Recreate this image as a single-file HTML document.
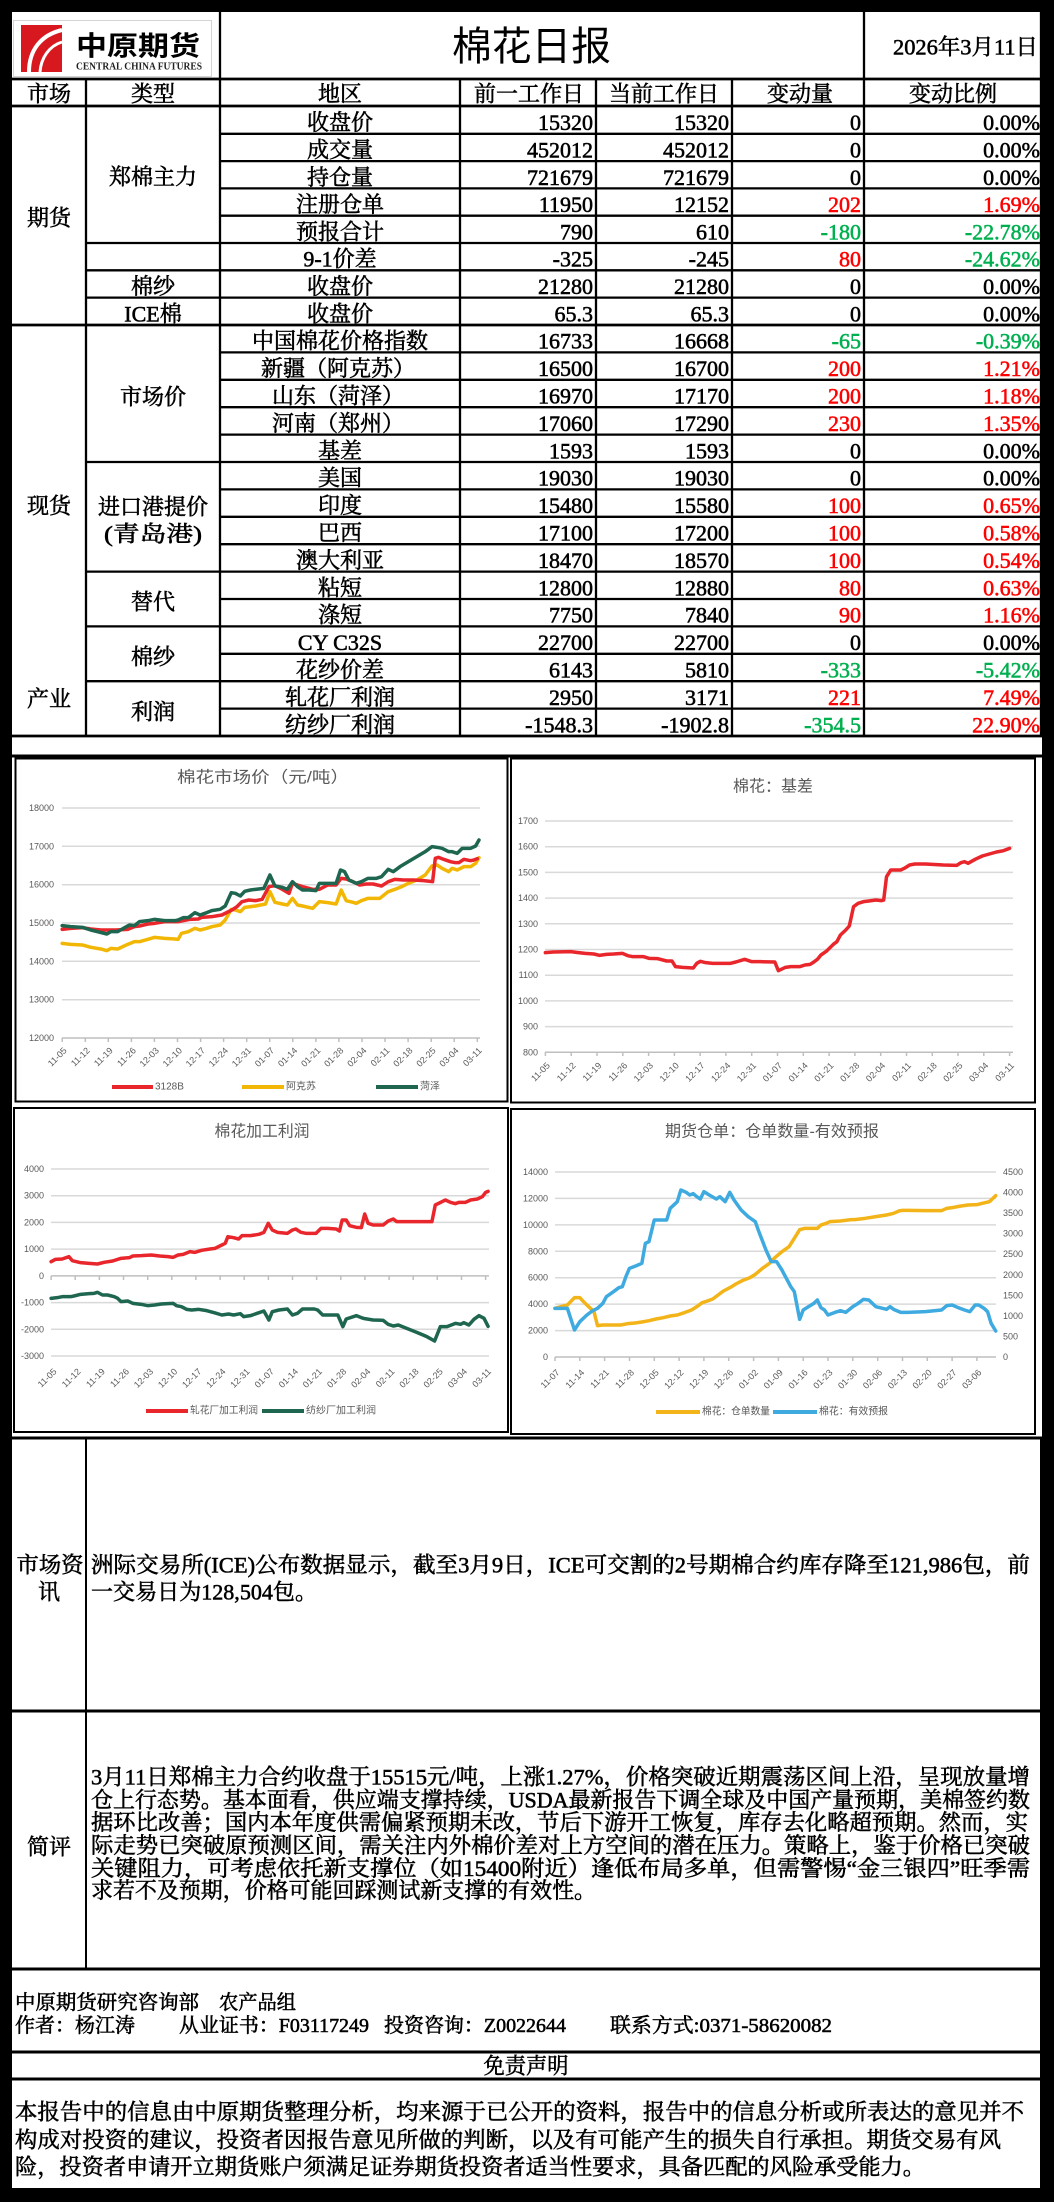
<!DOCTYPE html>
<html><head><meta charset="utf-8">
<style>
html,body{margin:0;padding:0;background:#000;}
svg{display:block;}
.t{font-family:"Liberation Serif","Noto Serif CJK SC",serif;font-size:22px;fill:#000;stroke:#000;stroke-width:0.55;dominant-baseline:central;}
.c{text-anchor:middle;}
.e{text-anchor:end;}
.r{fill:#ff0000;stroke:#ff0000;}
.g{fill:#00b050;stroke:#00b050;}
.ax{font-family:"Liberation Sans","Noto Sans CJK SC",sans-serif;font-size:9px;fill:#595959;dominant-baseline:central;}
.lg{font-family:"Liberation Sans","Noto Sans CJK SC",sans-serif;font-size:10px;fill:#595959;dominant-baseline:central;}
.ti{font-family:"Liberation Sans","Noto Sans CJK SC",sans-serif;font-size:16px;fill:#595959;dominant-baseline:central;text-anchor:middle;}
.gl{stroke:#d9d9d9;stroke-width:1.5;}
.al{stroke:#bfbfbf;stroke-width:1.5;}
.ln{fill:none;stroke-width:3.5;stroke-linejoin:round;stroke-linecap:round;vector-effect:non-scaling-stroke;}
.b{stroke:#000;}
</style></head>
<body>
<svg width="1054" height="2202" viewBox="0 0 1054 2202" xmlns="http://www.w3.org/2000/svg">
<rect x="0" y="0" width="1054" height="2202" fill="#000"/>
<rect x="12" y="12" width="1030" height="2176" fill="#fff"/>

<!-- HEADER -->
<rect x="13.5" y="20.5" width="198" height="56" fill="#fff" stroke="#d4d4d4" stroke-width="1"/>
<rect x="21" y="25" width="41" height="47" fill="#d7191f"/>
<path d="M29 72 C 29 50, 41 35, 62 30" stroke="#fff" stroke-width="4" fill="none"/>
<path d="M40 72 C 41 58, 49 46, 62 42" stroke="#fff" stroke-width="3" fill="none"/>
<text x="76" y="44" style="font-family:'Noto Sans CJK SC',sans-serif;font-size:27px;font-weight:bold;dominant-baseline:central;" textLength="124" lengthAdjust="spacingAndGlyphs">中原期货</text>
<text x="76" y="67" style="font-family:'Liberation Serif',serif;font-size:10px;font-weight:bold;dominant-baseline:central;fill:#222" textLength="126" lengthAdjust="spacingAndGlyphs">CENTRAL CHINA FUTURES</text>
<text x="452" y="47" style="font-family:'Liberation Sans','Noto Sans CJK SC',sans-serif;font-size:40px;dominant-baseline:central;fill:#000" textLength="159" lengthAdjust="spacingAndGlyphs">棉花日报</text>
<text class="t" x="893" y="47" textLength="145" lengthAdjust="spacingAndGlyphs">2026年3月11日</text>

<!-- TABLE LINES -->
<g class="b" stroke-width="2.3">
<line x1="220" y1="12" x2="220" y2="737"/>
<line x1="864" y1="12" x2="864" y2="737"/>
<line x1="86" y1="79" x2="86" y2="737"/>
<line x1="460" y1="79" x2="460" y2="737"/>
<line x1="596" y1="79" x2="596" y2="737"/>
<line x1="732" y1="79" x2="732" y2="737"/>
<line x1="1041" y1="12" x2="1041" y2="737"/>
</g>
<g class="b" stroke-width="2.8">
<line x1="12" y1="79" x2="1042" y2="79"/>
<line x1="12" y1="106" x2="1042" y2="106"/>
<line x1="12" y1="325" x2="1042" y2="325"/>
<line x1="12" y1="736" x2="1042" y2="736"/>
</g>
<g class="b" stroke-width="2.3">
<line x1="220" y1="133.8" x2="1042" y2="133.8"/>
<line x1="220" y1="161.1" x2="1042" y2="161.1"/>
<line x1="220" y1="188.4" x2="1042" y2="188.4"/>
<line x1="220" y1="215.7" x2="1042" y2="215.7"/>
<line x1="86" y1="243" x2="1042" y2="243"/>
<line x1="86" y1="270.3" x2="1042" y2="270.3"/>
<line x1="86" y1="297.6" x2="1042" y2="297.6"/>
<line x1="220" y1="352.4" x2="1042" y2="352.4"/>
<line x1="220" y1="379.8" x2="1042" y2="379.8"/>
<line x1="220" y1="407.2" x2="1042" y2="407.2"/>
<line x1="220" y1="434.6" x2="1042" y2="434.6"/>
<line x1="86" y1="462" x2="1042" y2="462"/>
<line x1="220" y1="489.4" x2="1042" y2="489.4"/>
<line x1="220" y1="516.8" x2="1042" y2="516.8"/>
<line x1="220" y1="544.2" x2="1042" y2="544.2"/>
<line x1="86" y1="571.6" x2="1042" y2="571.6"/>
<line x1="220" y1="599" x2="1042" y2="599"/>
<line x1="86" y1="626.4" x2="1042" y2="626.4"/>
<line x1="220" y1="653.8" x2="1042" y2="653.8"/>
<line x1="86" y1="681.2" x2="1042" y2="681.2"/>
<line x1="220" y1="708.6" x2="1042" y2="708.6"/>
</g>

<!-- TABLE HEADER -->
<text class="t c" x="49" y="94">市场</text>
<text class="t c" x="153" y="94">类型</text>
<text class="t c" x="340" y="94">地区</text>
<text class="t c" x="529" y="94">前一工作日</text>
<text class="t c" x="664" y="94">当前工作日</text>
<text class="t c" x="800" y="94">变动量</text>
<text class="t c" x="953" y="94">变动比例</text>

<!-- SECTION 1 -->
<text class="t c" x="49" y="218">期货</text>
<text class="t c" x="153" y="177">郑棉主力</text>
<text class="t c" x="153" y="286.5">棉纱</text>
<text class="t c" x="153" y="313.8">ICE棉</text>

<text class="t c" x="340" y="122.7">收盘价</text><text class="t e" x="593" y="122.7">15320</text><text class="t e" x="729" y="122.7">15320</text><text class="t e" x="861" y="122.7">0</text><text class="t e" x="1040" y="122.7">0.00%</text>
<text class="t c" x="340" y="150">成交量</text><text class="t e" x="593" y="150">452012</text><text class="t e" x="729" y="150">452012</text><text class="t e" x="861" y="150">0</text><text class="t e" x="1040" y="150">0.00%</text>
<text class="t c" x="340" y="177.3">持仓量</text><text class="t e" x="593" y="177.3">721679</text><text class="t e" x="729" y="177.3">721679</text><text class="t e" x="861" y="177.3">0</text><text class="t e" x="1040" y="177.3">0.00%</text>
<text class="t c" x="340" y="204.6">注册仓单</text><text class="t e" x="593" y="204.6">11950</text><text class="t e" x="729" y="204.6">12152</text><text class="t e r" x="861" y="204.6">202</text><text class="t e r" x="1040" y="204.6">1.69%</text>
<text class="t c" x="340" y="231.9">预报合计</text><text class="t e" x="593" y="231.9">790</text><text class="t e" x="729" y="231.9">610</text><text class="t e g" x="861" y="231.9">-180</text><text class="t e g" x="1040" y="231.9">-22.78%</text>
<text class="t c" x="340" y="259.2">9-1价差</text><text class="t e" x="593" y="259.2">-325</text><text class="t e" x="729" y="259.2">-245</text><text class="t e r" x="861" y="259.2">80</text><text class="t e g" x="1040" y="259.2">-24.62%</text>
<text class="t c" x="340" y="286.5">收盘价</text><text class="t e" x="593" y="286.5">21280</text><text class="t e" x="729" y="286.5">21280</text><text class="t e" x="861" y="286.5">0</text><text class="t e" x="1040" y="286.5">0.00%</text>
<text class="t c" x="340" y="313.8">收盘价</text><text class="t e" x="593" y="313.8">65.3</text><text class="t e" x="729" y="313.8">65.3</text><text class="t e" x="861" y="313.8">0</text><text class="t e" x="1040" y="313.8">0.00%</text>

<!-- SECTION 2 -->
<text class="t c" x="49" y="506">现货</text>
<text class="t c" x="49" y="699">产业</text>
<text class="t c" x="153" y="397">市场价</text>
<text class="t c" x="153" y="507">进口港提价</text>
<text class="t c" x="153" y="534" textLength="98" lengthAdjust="spacingAndGlyphs">(青岛港)</text>
<text class="t c" x="153" y="602">替代</text>
<text class="t c" x="153" y="657">棉纱</text>
<text class="t c" x="153" y="712">利润</text>

<text class="t c" x="340" y="341.2">中国棉花价格指数</text><text class="t e" x="593" y="341.2">16733</text><text class="t e" x="729" y="341.2">16668</text><text class="t e g" x="861" y="341.2">-65</text><text class="t e g" x="1040" y="341.2">-0.39%</text>
<text class="t c" x="338" y="368.6">新疆（阿克苏）</text><text class="t e" x="593" y="368.6">16500</text><text class="t e" x="729" y="368.6">16700</text><text class="t e r" x="861" y="368.6">200</text><text class="t e r" x="1040" y="368.6">1.21%</text>
<text class="t c" x="338" y="396">山东（菏泽）</text><text class="t e" x="593" y="396">16970</text><text class="t e" x="729" y="396">17170</text><text class="t e r" x="861" y="396">200</text><text class="t e r" x="1040" y="396">1.18%</text>
<text class="t c" x="338" y="423.4">河南（郑州）</text><text class="t e" x="593" y="423.4">17060</text><text class="t e" x="729" y="423.4">17290</text><text class="t e r" x="861" y="423.4">230</text><text class="t e r" x="1040" y="423.4">1.35%</text>
<text class="t c" x="340" y="450.8">基差</text><text class="t e" x="593" y="450.8">1593</text><text class="t e" x="729" y="450.8">1593</text><text class="t e" x="861" y="450.8">0</text><text class="t e" x="1040" y="450.8">0.00%</text>
<text class="t c" x="340" y="478.2">美国</text><text class="t e" x="593" y="478.2">19030</text><text class="t e" x="729" y="478.2">19030</text><text class="t e" x="861" y="478.2">0</text><text class="t e" x="1040" y="478.2">0.00%</text>
<text class="t c" x="340" y="505.6">印度</text><text class="t e" x="593" y="505.6">15480</text><text class="t e" x="729" y="505.6">15580</text><text class="t e r" x="861" y="505.6">100</text><text class="t e r" x="1040" y="505.6">0.65%</text>
<text class="t c" x="340" y="533">巴西</text><text class="t e" x="593" y="533">17100</text><text class="t e" x="729" y="533">17200</text><text class="t e r" x="861" y="533">100</text><text class="t e r" x="1040" y="533">0.58%</text>
<text class="t c" x="340" y="560.4">澳大利亚</text><text class="t e" x="593" y="560.4">18470</text><text class="t e" x="729" y="560.4">18570</text><text class="t e r" x="861" y="560.4">100</text><text class="t e r" x="1040" y="560.4">0.54%</text>
<text class="t c" x="340" y="587.8">粘短</text><text class="t e" x="593" y="587.8">12800</text><text class="t e" x="729" y="587.8">12880</text><text class="t e r" x="861" y="587.8">80</text><text class="t e r" x="1040" y="587.8">0.63%</text>
<text class="t c" x="340" y="615.2">涤短</text><text class="t e" x="593" y="615.2">7750</text><text class="t e" x="729" y="615.2">7840</text><text class="t e r" x="861" y="615.2">90</text><text class="t e r" x="1040" y="615.2">1.16%</text>
<text class="t c" x="340" y="642.6">CY C32S</text><text class="t e" x="593" y="642.6">22700</text><text class="t e" x="729" y="642.6">22700</text><text class="t e" x="861" y="642.6">0</text><text class="t e" x="1040" y="642.6">0.00%</text>
<text class="t c" x="340" y="670">花纱价差</text><text class="t e" x="593" y="670">6143</text><text class="t e" x="729" y="670">5810</text><text class="t e g" x="861" y="670">-333</text><text class="t e g" x="1040" y="670">-5.42%</text>
<text class="t c" x="340" y="697.4">轧花厂利润</text><text class="t e" x="593" y="697.4">2950</text><text class="t e" x="729" y="697.4">3171</text><text class="t e r" x="861" y="697.4">221</text><text class="t e r" x="1040" y="697.4">7.49%</text>
<text class="t c" x="340" y="724.8">纺纱厂利润</text><text class="t e" x="593" y="724.8">-1548.3</text><text class="t e" x="729" y="724.8">-1902.8</text><text class="t e g" x="861" y="724.8">-354.5</text><text class="t e r" x="1040" y="724.8">22.90%</text>

<!-- CHART AREA -->
<line x1="12" y1="756" x2="1042" y2="756" stroke="#000" stroke-width="3"/>
<rect x="15.5" y="758.5" width="492" height="343" fill="#fff" stroke="#000" stroke-width="2"/>
<rect x="511" y="758.5" width="524" height="344" fill="#fff" stroke="#000" stroke-width="2"/>
<rect x="14" y="1108" width="494" height="324" fill="#fff" stroke="#000" stroke-width="2"/>
<rect x="511" y="1109" width="524" height="325" fill="#fff" stroke="#000" stroke-width="2"/>

<!-- Chart 1 -->
<text class="ti" x="263" y="778" textLength="172" lengthAdjust="spacingAndGlyphs">棉花市场价（元/吨）</text>
<g class="gl">
<line x1="62" y1="808" x2="480" y2="808"/><line x1="62" y1="846.3" x2="480" y2="846.3"/><line x1="62" y1="884.7" x2="480" y2="884.7"/><line x1="62" y1="923" x2="480" y2="923"/><line x1="62" y1="961.3" x2="480" y2="961.3"/><line x1="62" y1="999.7" x2="480" y2="999.7"/>
</g>
<line class="al" x1="62" y1="1038" x2="480" y2="1038"/>
<g class="al">
<line x1="62.2" y1="1038" x2="62.2" y2="1042"/><line x1="85.3" y1="1038" x2="85.3" y2="1042"/><line x1="108.3" y1="1038" x2="108.3" y2="1042"/><line x1="131.4" y1="1038" x2="131.4" y2="1042"/><line x1="154.4" y1="1038" x2="154.4" y2="1042"/><line x1="177.5" y1="1038" x2="177.5" y2="1042"/><line x1="200.6" y1="1038" x2="200.6" y2="1042"/><line x1="223.6" y1="1038" x2="223.6" y2="1042"/><line x1="246.7" y1="1038" x2="246.7" y2="1042"/><line x1="269.7" y1="1038" x2="269.7" y2="1042"/><line x1="292.8" y1="1038" x2="292.8" y2="1042"/><line x1="315.9" y1="1038" x2="315.9" y2="1042"/><line x1="338.9" y1="1038" x2="338.9" y2="1042"/><line x1="362" y1="1038" x2="362" y2="1042"/><line x1="385" y1="1038" x2="385" y2="1042"/><line x1="408.1" y1="1038" x2="408.1" y2="1042"/><line x1="431.2" y1="1038" x2="431.2" y2="1042"/><line x1="454.2" y1="1038" x2="454.2" y2="1042"/><line x1="477.3" y1="1038" x2="477.3" y2="1042"/>
</g>
<g class="ax" text-anchor="end">
<text x="54" y="808">18000</text><text x="54" y="846.3">17000</text><text x="54" y="884.7">16000</text><text x="54" y="923">15000</text><text x="54" y="961.3">14000</text><text x="54" y="999.7">13000</text><text x="54" y="1038">12000</text>
</g>
<g class="ax" text-anchor="end">
<text x="65.2" y="1049" transform="rotate(-45 65.2 1049)">11-05</text>
<text x="88.3" y="1049" transform="rotate(-45 88.3 1049)">11-12</text>
<text x="111.3" y="1049" transform="rotate(-45 111.3 1049)">11-19</text>
<text x="134.4" y="1049" transform="rotate(-45 134.4 1049)">11-26</text>
<text x="157.4" y="1049" transform="rotate(-45 157.4 1049)">12-03</text>
<text x="180.5" y="1049" transform="rotate(-45 180.5 1049)">12-10</text>
<text x="203.6" y="1049" transform="rotate(-45 203.6 1049)">12-17</text>
<text x="226.6" y="1049" transform="rotate(-45 226.6 1049)">12-24</text>
<text x="249.7" y="1049" transform="rotate(-45 249.7 1049)">12-31</text>
<text x="272.7" y="1049" transform="rotate(-45 272.7 1049)">01-07</text>
<text x="295.8" y="1049" transform="rotate(-45 295.8 1049)">01-14</text>
<text x="318.9" y="1049" transform="rotate(-45 318.9 1049)">01-21</text>
<text x="341.9" y="1049" transform="rotate(-45 341.9 1049)">01-28</text>
<text x="365" y="1049" transform="rotate(-45 365 1049)">02-04</text>
<text x="388" y="1049" transform="rotate(-45 388 1049)">02-11</text>
<text x="411.1" y="1049" transform="rotate(-45 411.1 1049)">02-18</text>
<text x="434.2" y="1049" transform="rotate(-45 434.2 1049)">02-25</text>
<text x="457.2" y="1049" transform="rotate(-45 457.2 1049)">03-04</text>
<text x="480.3" y="1049" transform="rotate(-45 480.3 1049)">03-11</text>
</g>
<g transform="translate(0,730) scale(0.33613,0.33333)">
<polyline class="ln" stroke="#f2b705" points="185,640 210,643 245,645 270,652 300,657 318,662 330,655 350,657 380,643 400,635 415,635 440,628 460,622 490,625 520,627 530,628 540,610 560,605 580,595 595,600 615,595 630,590 655,585 670,570 688,538 700,540 715,545 728,532 760,528 790,522 803,485 818,517 840,522 855,525 870,505 885,525 900,528 930,535 950,515 975,518 1000,522 1015,480 1030,512 1050,517 1060,520 1075,512 1095,505 1130,505 1155,485 1175,478 1195,470 1215,460 1240,450 1265,435 1285,408 1300,405 1315,415 1335,425 1345,415 1360,420 1380,410 1400,410 1415,400 1425,383"/>
<polyline class="ln" stroke="#e8262b" points="185,598 210,595 245,593 270,597 300,600 320,600 345,600 380,598 400,590 415,588 440,582 460,580 490,575 530,575 545,572 565,568 590,567 600,562 630,560 660,555 690,540 705,530 720,515 740,510 760,512 780,508 800,470 818,467 840,478 860,490 870,460 885,465 900,470 930,478 950,478 975,465 1000,465 1015,445 1030,447 1050,455 1070,465 1090,462 1110,462 1135,468 1155,455 1175,448 1200,450 1230,450 1260,452 1287,455 1295,385 1305,382 1320,388 1340,395 1355,398 1365,398 1380,388 1400,392 1410,390 1420,386"/>
<polyline class="ln" stroke="#1e6650" points="185,587 210,590 245,592 270,600 290,605 318,612 330,605 350,605 385,585 400,587 415,575 440,572 460,568 490,572 520,572 530,570 545,563 560,563 580,548 595,555 615,548 630,542 655,538 670,528 688,488 700,490 715,498 728,484 745,480 760,478 785,475 803,435 818,468 840,472 855,478 870,455 885,470 900,480 920,480 940,482 950,460 975,460 1000,460 1013,420 1025,425 1038,450 1060,460 1075,455 1095,445 1120,445 1135,440 1155,418 1170,425 1190,410 1215,395 1240,380 1265,365 1285,350 1300,352 1315,355 1335,365 1345,365 1360,370 1375,355 1400,355 1415,348 1425,330"/>
</g>
<line x1="112" y1="1087" x2="153" y2="1087" stroke="#e8262b" stroke-width="4"/>
<text class="lg" x="155" y="1087">3128B</text>
<line x1="242" y1="1087" x2="284" y2="1087" stroke="#f2b705" stroke-width="4"/>
<text class="lg" x="286" y="1087">阿克苏</text>
<line x1="376" y1="1087" x2="418" y2="1087" stroke="#1e6650" stroke-width="4"/>
<text class="lg" x="420" y="1087">菏泽</text>

<!-- Chart 2 -->
<text class="ti" x="773" y="787" textLength="80" lengthAdjust="spacingAndGlyphs">棉花：基差</text>
<g class="gl">
<line x1="545" y1="821" x2="1013" y2="821"/><line x1="545" y1="846.7" x2="1013" y2="846.7"/><line x1="545" y1="872.4" x2="1013" y2="872.4"/><line x1="545" y1="898.1" x2="1013" y2="898.1"/><line x1="545" y1="923.8" x2="1013" y2="923.8"/><line x1="545" y1="949.5" x2="1013" y2="949.5"/><line x1="545" y1="975.2" x2="1013" y2="975.2"/><line x1="545" y1="1000.9" x2="1013" y2="1000.9"/><line x1="545" y1="1026.6" x2="1013" y2="1026.6"/>
</g>
<line class="al" x1="545" y1="1052.3" x2="1013" y2="1052.3"/>
<g class="al">
<line x1="545.4" y1="1052" x2="545.4" y2="1056"/><line x1="571.2" y1="1052" x2="571.2" y2="1056"/><line x1="597" y1="1052" x2="597" y2="1056"/><line x1="622.8" y1="1052" x2="622.8" y2="1056"/><line x1="648.6" y1="1052" x2="648.6" y2="1056"/><line x1="674.4" y1="1052" x2="674.4" y2="1056"/><line x1="700.1" y1="1052" x2="700.1" y2="1056"/><line x1="725.9" y1="1052" x2="725.9" y2="1056"/><line x1="751.7" y1="1052" x2="751.7" y2="1056"/><line x1="777.5" y1="1052" x2="777.5" y2="1056"/><line x1="803.3" y1="1052" x2="803.3" y2="1056"/><line x1="829.1" y1="1052" x2="829.1" y2="1056"/><line x1="854.9" y1="1052" x2="854.9" y2="1056"/><line x1="880.7" y1="1052" x2="880.7" y2="1056"/><line x1="906.5" y1="1052" x2="906.5" y2="1056"/><line x1="932.3" y1="1052" x2="932.3" y2="1056"/><line x1="958" y1="1052" x2="958" y2="1056"/><line x1="983.8" y1="1052" x2="983.8" y2="1056"/><line x1="1009.6" y1="1052" x2="1009.6" y2="1056"/>
</g>
<g class="ax" text-anchor="end">
<text x="538" y="821">1700</text><text x="538" y="846.7">1600</text><text x="538" y="872.4">1500</text><text x="538" y="898.1">1400</text><text x="538" y="923.8">1300</text><text x="538" y="949.5">1200</text><text x="538" y="975.2">1100</text><text x="538" y="1000.9">1000</text><text x="538" y="1026.6">900</text><text x="538" y="1052.3">800</text>
</g>
<g class="ax" text-anchor="end">
<text x="548.4" y="1064" transform="rotate(-45 548.4 1064)">11-05</text>
<text x="574.2" y="1064" transform="rotate(-45 574.2 1064)">11-12</text>
<text x="600" y="1064" transform="rotate(-45 600 1064)">11-19</text>
<text x="625.8" y="1064" transform="rotate(-45 625.8 1064)">11-26</text>
<text x="651.6" y="1064" transform="rotate(-45 651.6 1064)">12-03</text>
<text x="677.4" y="1064" transform="rotate(-45 677.4 1064)">12-10</text>
<text x="703.1" y="1064" transform="rotate(-45 703.1 1064)">12-17</text>
<text x="728.9" y="1064" transform="rotate(-45 728.9 1064)">12-24</text>
<text x="754.7" y="1064" transform="rotate(-45 754.7 1064)">12-31</text>
<text x="780.5" y="1064" transform="rotate(-45 780.5 1064)">01-07</text>
<text x="806.3" y="1064" transform="rotate(-45 806.3 1064)">01-14</text>
<text x="832.1" y="1064" transform="rotate(-45 832.1 1064)">01-21</text>
<text x="857.9" y="1064" transform="rotate(-45 857.9 1064)">01-28</text>
<text x="883.7" y="1064" transform="rotate(-45 883.7 1064)">02-04</text>
<text x="909.5" y="1064" transform="rotate(-45 909.5 1064)">02-11</text>
<text x="935.3" y="1064" transform="rotate(-45 935.3 1064)">02-18</text>
<text x="961" y="1064" transform="rotate(-45 961 1064)">02-25</text>
<text x="986.8" y="1064" transform="rotate(-45 986.8 1064)">03-04</text>
<text x="1012.6" y="1064" transform="rotate(-45 1012.6 1064)">03-11</text>
</g>
<g transform="translate(500,730) scale(0.35461,0.33333)">
<polyline class="ln" stroke="#e8262b" points="128,668 150,666 200,665 215,667 240,670 265,672 280,676 300,673 320,672 345,670 360,677 375,680 405,680 420,685 445,686 470,693 485,693 495,710 515,712 545,714 555,700 565,694 580,698 600,700 650,700 665,696 690,688 710,695 735,695 775,696 785,722 805,712 820,710 845,710 860,705 875,703 885,696 895,688 905,675 920,664 940,643 950,635 960,615 975,600 985,588 997,530 1010,520 1025,515 1040,513 1060,510 1075,512 1082,510 1090,440 1102,420 1115,420 1130,420 1140,415 1155,405 1170,402 1200,402 1250,405 1288,406 1300,398 1310,395 1320,400 1340,388 1360,378 1380,372 1400,366 1420,362 1437,355"/>
</g>

<!-- Chart 3 -->
<text class="ti" x="262" y="1132" textLength="95" lengthAdjust="spacingAndGlyphs">棉花加工利润</text>
<g class="gl">
<line x1="51" y1="1169" x2="489" y2="1169"/><line x1="51" y1="1195.7" x2="489" y2="1195.7"/><line x1="51" y1="1222.4" x2="489" y2="1222.4"/><line x1="51" y1="1249.1" x2="489" y2="1249.1"/><line x1="51" y1="1302.6" x2="489" y2="1302.6"/><line x1="51" y1="1329.3" x2="489" y2="1329.3"/><line x1="51" y1="1356" x2="489" y2="1356"/>
</g>
<line class="al" x1="51" y1="1275.9" x2="489" y2="1275.9"/>
<g class="al">
<line x1="51.1" y1="1276" x2="51.1" y2="1280"/><line x1="75.2" y1="1276" x2="75.2" y2="1280"/><line x1="99.4" y1="1276" x2="99.4" y2="1280"/><line x1="123.5" y1="1276" x2="123.5" y2="1280"/><line x1="147.7" y1="1276" x2="147.7" y2="1280"/><line x1="171.8" y1="1276" x2="171.8" y2="1280"/><line x1="195.9" y1="1276" x2="195.9" y2="1280"/><line x1="220.1" y1="1276" x2="220.1" y2="1280"/><line x1="244.2" y1="1276" x2="244.2" y2="1280"/><line x1="268.4" y1="1276" x2="268.4" y2="1280"/><line x1="292.5" y1="1276" x2="292.5" y2="1280"/><line x1="316.6" y1="1276" x2="316.6" y2="1280"/><line x1="340.8" y1="1276" x2="340.8" y2="1280"/><line x1="364.9" y1="1276" x2="364.9" y2="1280"/><line x1="389.1" y1="1276" x2="389.1" y2="1280"/><line x1="413.2" y1="1276" x2="413.2" y2="1280"/><line x1="437.3" y1="1276" x2="437.3" y2="1280"/><line x1="461.5" y1="1276" x2="461.5" y2="1280"/><line x1="485.6" y1="1276" x2="485.6" y2="1280"/>
</g>
<g class="ax" text-anchor="end">
<text x="44" y="1169">4000</text><text x="44" y="1195.7">3000</text><text x="44" y="1222.4">2000</text><text x="44" y="1249.1">1000</text><text x="44" y="1275.9">0</text><text x="44" y="1302.6">-1000</text><text x="44" y="1329.3">-2000</text><text x="44" y="1356">-3000</text>
</g>
<g class="ax" text-anchor="end">
<text x="55.1" y="1370" transform="rotate(-45 55.1 1370)">11-05</text>
<text x="79.2" y="1370" transform="rotate(-45 79.2 1370)">11-12</text>
<text x="103.4" y="1370" transform="rotate(-45 103.4 1370)">11-19</text>
<text x="127.5" y="1370" transform="rotate(-45 127.5 1370)">11-26</text>
<text x="151.7" y="1370" transform="rotate(-45 151.7 1370)">12-03</text>
<text x="175.8" y="1370" transform="rotate(-45 175.8 1370)">12-10</text>
<text x="199.9" y="1370" transform="rotate(-45 199.9 1370)">12-17</text>
<text x="224.1" y="1370" transform="rotate(-45 224.1 1370)">12-24</text>
<text x="248.2" y="1370" transform="rotate(-45 248.2 1370)">12-31</text>
<text x="272.4" y="1370" transform="rotate(-45 272.4 1370)">01-07</text>
<text x="296.5" y="1370" transform="rotate(-45 296.5 1370)">01-14</text>
<text x="320.6" y="1370" transform="rotate(-45 320.6 1370)">01-21</text>
<text x="344.8" y="1370" transform="rotate(-45 344.8 1370)">01-28</text>
<text x="368.9" y="1370" transform="rotate(-45 368.9 1370)">02-04</text>
<text x="393.1" y="1370" transform="rotate(-45 393.1 1370)">02-11</text>
<text x="417.2" y="1370" transform="rotate(-45 417.2 1370)">02-18</text>
<text x="441.3" y="1370" transform="rotate(-45 441.3 1370)">02-25</text>
<text x="465.5" y="1370" transform="rotate(-45 465.5 1370)">03-04</text>
<text x="489.6" y="1370" transform="rotate(-45 489.6 1370)">03-11</text>
</g>
<g transform="translate(0,1095) scale(0.33613,0.33333)">
<polyline class="ln" stroke="#e8262b" points="152,500 165,493 185,492 205,485 215,497 240,503 265,505 290,507 310,502 335,498 360,490 385,488 395,483 420,482 450,480 475,483 500,485 515,487 530,480 545,478 565,470 580,472 600,466 625,462 640,460 660,450 670,445 678,425 695,428 710,432 720,422 745,422 770,418 785,412 798,385 810,405 825,412 855,415 870,405 880,402 895,412 910,415 940,415 955,400 975,400 1000,402 1010,408 1018,375 1030,375 1040,392 1060,397 1075,398 1085,357 1095,385 1110,390 1140,390 1155,378 1170,372 1180,380 1210,380 1285,380 1295,330 1315,320 1325,315 1340,322 1355,326 1365,322 1385,322 1400,315 1420,312 1435,305 1445,292 1452,289"/>
<polyline class="ln" stroke="#1e6650" points="152,610 170,608 185,605 210,605 220,603 240,598 265,596 280,595 290,592 305,600 320,600 340,605 350,610 360,620 380,618 395,625 420,628 440,632 460,630 480,627 500,626 515,625 525,632 540,635 555,643 570,645 590,643 615,647 640,654 660,660 680,657 695,660 715,656 725,665 745,662 765,655 785,648 800,675 810,650 830,645 855,642 870,660 885,655 900,642 935,642 945,645 960,660 1005,660 1020,695 1030,672 1060,662 1075,668 1085,671 1110,675 1140,676 1155,688 1170,693 1185,690 1210,700 1240,712 1270,725 1293,738 1310,695 1330,695 1355,685 1370,688 1380,683 1395,690 1410,673 1425,662 1440,670 1452,694"/>
</g>
<line x1="146" y1="1411" x2="188" y2="1411" stroke="#e8262b" stroke-width="4"/>
<text class="lg" x="190" y="1411" textLength="68" lengthAdjust="spacingAndGlyphs">轧花厂加工利润</text>
<line x1="262" y1="1411" x2="304" y2="1411" stroke="#1e6650" stroke-width="4"/>
<text class="lg" x="306" y="1411" textLength="70" lengthAdjust="spacingAndGlyphs">纺纱厂加工利润</text>

<!-- Chart 4 -->
<text class="ti" x="772" y="1132" textLength="214" lengthAdjust="spacingAndGlyphs">期货仓单：仓单数量-有效预报</text>
<g class="gl">
<line x1="555" y1="1172" x2="996" y2="1172"/><line x1="555" y1="1198.4" x2="996" y2="1198.4"/><line x1="555" y1="1224.9" x2="996" y2="1224.9"/><line x1="555" y1="1251.3" x2="996" y2="1251.3"/><line x1="555" y1="1277.7" x2="996" y2="1277.7"/><line x1="555" y1="1304.1" x2="996" y2="1304.1"/><line x1="555" y1="1330.6" x2="996" y2="1330.6"/>
</g>
<line class="al" x1="555" y1="1357" x2="996" y2="1357"/>
<g class="al">
<line x1="555" y1="1357" x2="555" y2="1361"/><line x1="579.8" y1="1357" x2="579.8" y2="1361"/><line x1="604.6" y1="1357" x2="604.6" y2="1361"/><line x1="629.5" y1="1357" x2="629.5" y2="1361"/><line x1="654.3" y1="1357" x2="654.3" y2="1361"/><line x1="679.1" y1="1357" x2="679.1" y2="1361"/><line x1="703.9" y1="1357" x2="703.9" y2="1361"/><line x1="728.7" y1="1357" x2="728.7" y2="1361"/><line x1="753.6" y1="1357" x2="753.6" y2="1361"/><line x1="778.4" y1="1357" x2="778.4" y2="1361"/><line x1="803.2" y1="1357" x2="803.2" y2="1361"/><line x1="828" y1="1357" x2="828" y2="1361"/><line x1="852.8" y1="1357" x2="852.8" y2="1361"/><line x1="877.7" y1="1357" x2="877.7" y2="1361"/><line x1="902.5" y1="1357" x2="902.5" y2="1361"/><line x1="927.3" y1="1357" x2="927.3" y2="1361"/><line x1="952.1" y1="1357" x2="952.1" y2="1361"/><line x1="976.9" y1="1357" x2="976.9" y2="1361"/>
</g>
<g class="ax" text-anchor="end">
<text x="548" y="1172">14000</text><text x="548" y="1198.4">12000</text><text x="548" y="1224.9">10000</text><text x="548" y="1251.3">8000</text><text x="548" y="1277.7">6000</text><text x="548" y="1304.1">4000</text><text x="548" y="1330.6">2000</text><text x="548" y="1357">0</text>
</g>
<g class="ax">
<text x="1003" y="1172">4500</text><text x="1003" y="1192.6">4000</text><text x="1003" y="1213.1">3500</text><text x="1003" y="1233.7">3000</text><text x="1003" y="1254.2">2500</text><text x="1003" y="1274.8">2000</text><text x="1003" y="1295.3">1500</text><text x="1003" y="1315.9">1000</text><text x="1003" y="1336.4">500</text><text x="1003" y="1357">0</text>
</g>
<g class="ax" text-anchor="end">
<text x="558" y="1371" transform="rotate(-45 558 1371)">11-07</text>
<text x="582.8" y="1371" transform="rotate(-45 582.8 1371)">11-14</text>
<text x="607.6" y="1371" transform="rotate(-45 607.6 1371)">11-21</text>
<text x="632.5" y="1371" transform="rotate(-45 632.5 1371)">11-28</text>
<text x="657.3" y="1371" transform="rotate(-45 657.3 1371)">12-05</text>
<text x="682.1" y="1371" transform="rotate(-45 682.1 1371)">12-12</text>
<text x="706.9" y="1371" transform="rotate(-45 706.9 1371)">12-19</text>
<text x="731.7" y="1371" transform="rotate(-45 731.7 1371)">12-26</text>
<text x="756.6" y="1371" transform="rotate(-45 756.6 1371)">01-02</text>
<text x="781.4" y="1371" transform="rotate(-45 781.4 1371)">01-09</text>
<text x="806.2" y="1371" transform="rotate(-45 806.2 1371)">01-16</text>
<text x="831" y="1371" transform="rotate(-45 831 1371)">01-23</text>
<text x="855.8" y="1371" transform="rotate(-45 855.8 1371)">01-30</text>
<text x="880.7" y="1371" transform="rotate(-45 880.7 1371)">02-06</text>
<text x="905.5" y="1371" transform="rotate(-45 905.5 1371)">02-13</text>
<text x="930.3" y="1371" transform="rotate(-45 930.3 1371)">02-20</text>
<text x="955.1" y="1371" transform="rotate(-45 955.1 1371)">02-27</text>
<text x="979.9" y="1371" transform="rotate(-45 979.9 1371)">03-06</text>
</g>
<g transform="translate(500,1095) scale(0.35461,0.33333)">
<polyline class="ln" stroke="#f2b418" points="155,640 175,634 190,630 210,608 225,608 240,625 255,640 265,650 275,692 290,690 300,690 340,690 360,686 380,684 400,681 420,677 440,672 460,668 480,663 500,660 520,653 540,645 555,635 570,623 585,618 600,612 615,600 630,588 650,577 665,567 685,556 705,548 720,538 740,520 760,505 775,488 795,470 815,455 830,430 845,404 860,400 880,400 895,400 905,390 920,385 930,380 960,378 990,374 1000,374 1030,370 1060,365 1090,360 1110,355 1125,348 1135,346 1150,346 1200,347 1245,347 1260,340 1280,337 1300,333 1320,330 1345,329 1360,325 1380,320 1398,302"/>
<polyline class="ln" stroke="#3eaae0" points="155,640 175,640 190,640 210,705 225,680 245,660 260,648 275,640 290,625 300,605 320,590 335,578 345,575 355,545 365,520 385,512 400,505 410,445 420,440 435,375 460,375 470,375 480,340 500,320 510,285 525,292 535,300 545,296 555,305 565,312 575,290 590,300 610,312 620,305 635,320 648,292 660,315 680,345 700,365 720,380 730,410 750,465 765,500 780,500 795,525 810,555 820,575 830,590 845,673 855,645 870,635 885,625 895,615 905,638 915,645 925,660 945,652 960,647 975,652 995,635 1010,625 1025,613 1040,615 1060,635 1090,643 1100,635 1110,643 1130,652 1150,652 1200,650 1245,645 1260,632 1275,630 1290,637 1310,645 1325,650 1340,630 1350,630 1365,640 1375,650 1385,685 1398,708"/>
</g>
<line x1="656" y1="1412" x2="700" y2="1412" stroke="#f2b418" stroke-width="4"/>
<text class="lg" x="702" y="1412" textLength="68" lengthAdjust="spacingAndGlyphs">棉花：仓单数量</text>
<line x1="773" y1="1412" x2="817" y2="1412" stroke="#3eaae0" stroke-width="4"/>
<text class="lg" x="819" y="1412" textLength="69" lengthAdjust="spacingAndGlyphs">棉花：有效预报</text>

<!-- TEXT SECTIONS -->
<g class="b" stroke-width="3">
<line x1="12" y1="1438" x2="1042" y2="1438"/>
<line x1="12" y1="1711" x2="1042" y2="1711"/>
<line x1="12" y1="1969" x2="1042" y2="1969"/>
<line x1="12" y1="2052" x2="1042" y2="2052"/>
<line x1="12" y1="2079" x2="1042" y2="2079"/>
</g>
<line x1="86" y1="1438" x2="86" y2="1969" stroke="#000" stroke-width="2"/>
<line x1="1041" y1="1438" x2="1041" y2="2188" stroke="#000" stroke-width="2"/>

<text class="t c" x="50" y="1565" textLength="67" lengthAdjust="spacingAndGlyphs">市场资</text>
<text class="t c" x="49" y="1592">讯</text>
<text class="t" x="91" y="1565" textLength="939" lengthAdjust="spacingAndGlyphs">洲际交易所(ICE)公布数据显示，截至3月9日，ICE可交割的2号期棉合约库存降至121,986包，前</text>
<text class="t" x="91" y="1592" textLength="226" lengthAdjust="spacingAndGlyphs">一交易日为128,504包。</text>

<text class="t c" x="49" y="1847">简评</text>
<text class="t" x="91" y="1777" textLength="939" lengthAdjust="spacingAndGlyphs">3月11日郑棉主力合约收盘于15515元/吨，上涨1.27%，价格突破近期震荡区间上沿，呈现放量增</text>
<text class="t" x="91" y="1800" textLength="939" lengthAdjust="spacingAndGlyphs">仓上行态势。基本面看，供应端支撑持续，USDA最新报告下调全球及中国产量预期，美棉签约数</text>
<text class="t" x="91" y="1822.7" textLength="937" lengthAdjust="spacingAndGlyphs">据环比改善；国内本年度供需偏紧预期未改，节后下游开工恢复，库存去化略超预期。然而，实</text>
<text class="t" x="91" y="1845.7" textLength="939" lengthAdjust="spacingAndGlyphs">际走势已突破原预测区间，需关注内外棉价差对上方空间的潜在压力。策略上，鉴于价格已突破</text>
<text class="t" x="91" y="1868.3" textLength="939" lengthAdjust="spacingAndGlyphs">关键阻力，可考虑依托新支撑位（如15400附近）逢低布局多单，但需警惕“金三银四”旺季需</text>
<text class="t" x="91" y="1890.7" textLength="505" lengthAdjust="spacingAndGlyphs">求若不及预期，价格可能回踩测试新支撑的有效性。</text>

<text class="t" x="15" y="2003" style="font-size:20px" textLength="184" lengthAdjust="spacingAndGlyphs">中原期货研究咨询部</text>
<text class="t" x="219" y="2003" style="font-size:20px" textLength="77" lengthAdjust="spacingAndGlyphs">农产品组</text>
<text class="t" x="15" y="2026" style="font-size:20px" textLength="120" lengthAdjust="spacingAndGlyphs">作者：杨江涛</text>
<text class="t" x="179" y="2026" style="font-size:20px" textLength="190" lengthAdjust="spacingAndGlyphs">从业证书：F03117249</text>
<text class="t" x="384" y="2026" style="font-size:20px" textLength="182" lengthAdjust="spacingAndGlyphs">投资咨询：Z0022644</text>
<text class="t" x="610" y="2026" style="font-size:20px" textLength="222" lengthAdjust="spacingAndGlyphs">联系方式:0371-58620082</text>

<text class="t c" x="526" y="2066" textLength="85" lengthAdjust="spacingAndGlyphs">免责声明</text>
<text class="t" x="15" y="2112" textLength="1009" lengthAdjust="spacingAndGlyphs">本报告中的信息由中原期货整理分析，均来源于已公开的资料，报告中的信息分析或所表达的意见并不</text>
<text class="t" x="15" y="2140" textLength="986" lengthAdjust="spacingAndGlyphs">构成对投资的建议，投资者因报告意见所做的判断，以及有可能产生的损失自行承担。期货交易有风</text>
<text class="t" x="15" y="2167" textLength="910" lengthAdjust="spacingAndGlyphs">险，投资者申请开立期货账户须满足证券期货投资者适当性要求，具备匹配的风险承受能力。</text>
</svg>
</body></html>
